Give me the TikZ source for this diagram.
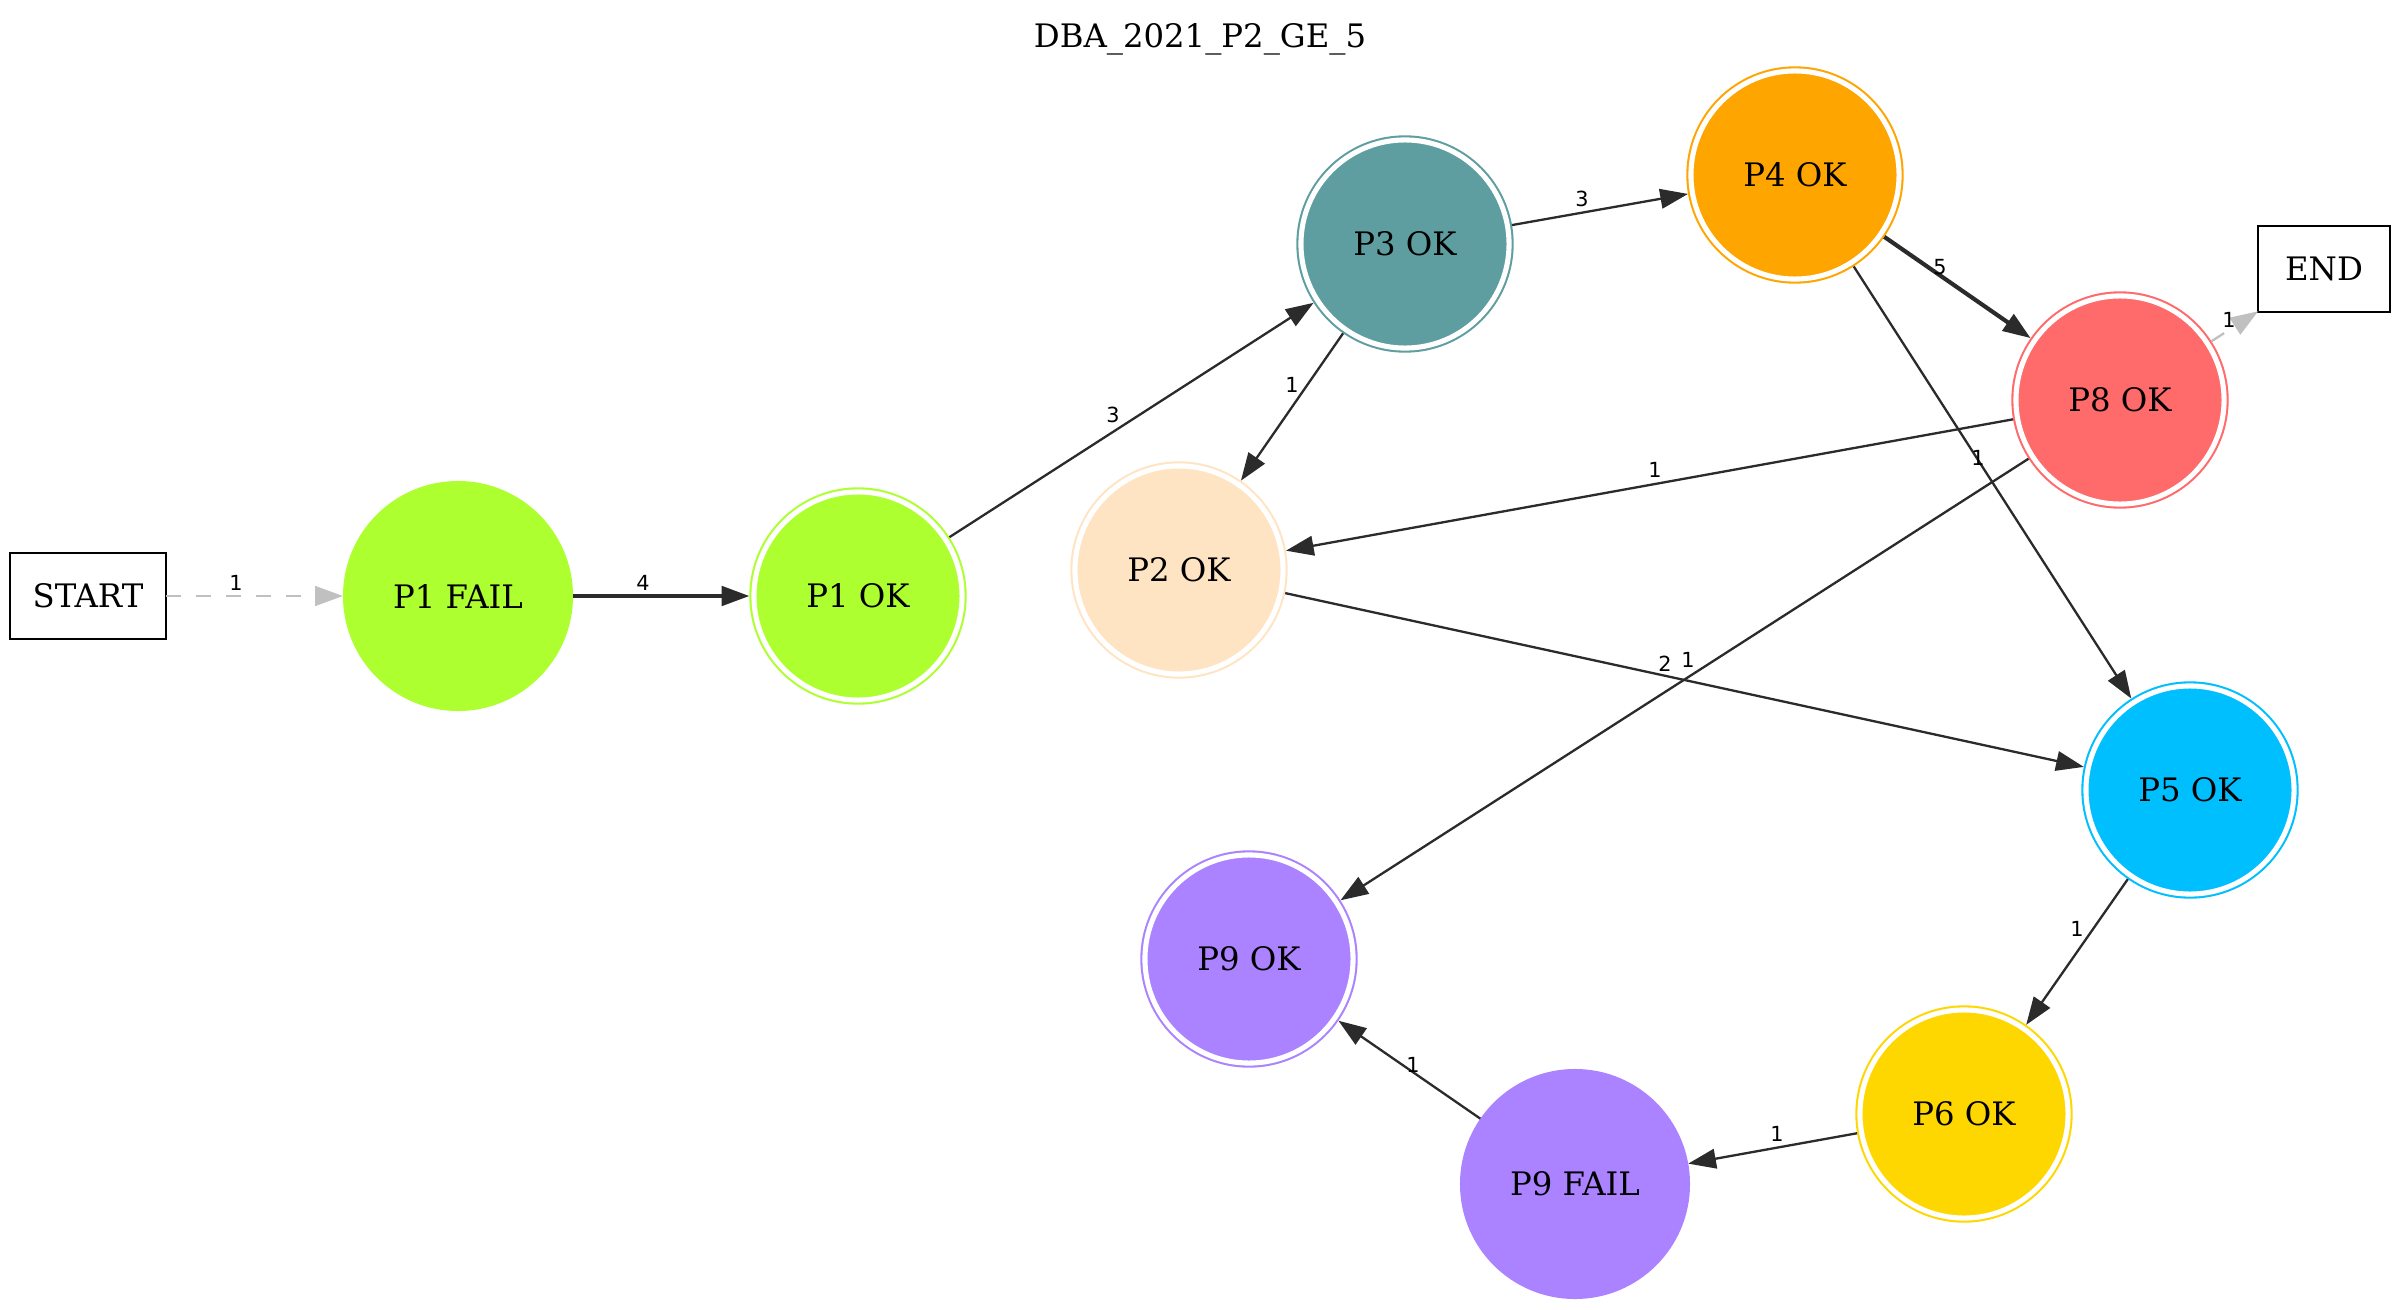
\documentclass[tikz,border=0pt]{standalone}
\usepackage{fontspec}
\setmainfont{DejaVu Serif}
\newfontfamily\edgefont{DejaVu Sans}
\usetikzlibrary{arrows.meta}
% state colours
\definecolor{cPone}{HTML}{ADFF2F}
\definecolor{cPtwo}{HTML}{FFE4C4}
\definecolor{cPthree}{HTML}{5F9EA0}
\definecolor{cPfour}{HTML}{FFA500}
\definecolor{cPfive}{HTML}{00BFFF}
\definecolor{cPsix}{HTML}{FFD700}
\definecolor{cPeight}{HTML}{FF6A6A}
\definecolor{cPnine}{HTML}{AB82FF}
\definecolor{edgedark}{HTML}{2B2B2B}
\definecolor{edgelight}{HTML}{C0C0C0}
\begin{document}
\begin{tikzpicture}[x=0.4329pt, y=-0.4329pt,
  every node/.style={inner sep=0pt, outer sep=0pt, font=\fontsize{14pt}{16pt}\selectfont},
  okstate/.style={circle, draw=#1, fill=#1, line width=0.9pt, double=white,
    double distance=2.2pt, minimum size=90.1pt, outer sep=2pt},
  failstate/.style={circle, fill=#1, minimum size=99.6pt},
  terminal/.style={rectangle, draw=black, line width=1pt, minimum height=37.5pt},
  flow/.style={draw=edgedark, line width=1pt, -{Triangle[length=12pt,width=8.5pt]}},
  ghost/.style={draw=edgelight, line width=1pt, dash pattern=on 6.5pt off 6.5pt,
    -{Triangle[length=12pt,width=8.5pt]}},
  count/.style={font=\edgefont\fontsize{9pt}{10pt}\selectfont}
]
\useasboundingbox (0,0) rectangle (2400,1310);

\node[anchor=base] (title) at (1200,47) {DBA\_2021\_P2\_GE\_5};

% states
\node[terminal, minimum width=67.4pt] (start) at (88,596) {START};
\node[terminal, minimum width=57pt] (end) at (2324,269) {END};
\node[failstate=cPone] (p1fail) at (458,596) {P1 FAIL};
\node[okstate=cPone] (p1ok) at (858,596) {P1 OK};
\node[okstate=cPthree] (p3ok) at (1405,244) {P3 OK};
\node[okstate=cPfour] (p4ok) at (1795,175) {P4 OK};
\node[okstate=cPeight] (p8ok) at (2120,400) {P8 OK};
\node[okstate=cPtwo] (p2ok) at (1179,570) {P2 OK};
\node[okstate=cPfive] (p5ok) at (2190,790) {P5 OK};
\node[okstate=cPnine] (p9ok) at (1249,959) {P9 OK};
\node[okstate=cPsix] (p6ok) at (1964,1114) {P6 OK};
\node[failstate=cPnine] (p9fail) at (1575,1184) {P9 FAIL};

% transitions
\draw[ghost] (start) -- (p1fail);
\draw[flow, line width=1.4pt] (p1fail) -- (p1ok);
\draw[flow] (p1ok) -- (p3ok);
\draw[flow] (p3ok) -- (p2ok);
\draw[flow] (p3ok) -- (p4ok);
\draw[flow, line width=1.8pt] (p4ok) -- (p8ok);
\draw[flow] (p4ok) -- (p5ok);
\draw[ghost] (p8ok) -- (end);
\draw[flow] (p8ok) -- (p2ok);
\draw[flow] (p8ok) -- (p9ok);
\draw[flow] (p2ok) -- (p5ok);
\draw[flow] (p5ok) -- (p6ok);
\draw[flow] (p6ok) -- (p9fail);
\draw[flow] (p9fail) -- (p9ok);

% transition counts
\node[count] (c1) at (236,583) {1};
\node[count] (c2) at (643,583) {4};
\node[count] (c3) at (1113,415) {3};
\node[count] (c4) at (1292,385) {1};
\node[count] (c5) at (1582,199) {3};
\node[count] (c6) at (1940,267) {5};
\node[count] (c7) at (1978,458) {1};
\node[count] (c8) at (2229,320) {1};
\node[count] (c9) at (1655,470) {1};
\node[count] (c10) at (1688,660) {1};
\node[count] (c11) at (1665,664) {2};
\node[count] (c12) at (2077,929) {1};
\node[count] (c13) at (1777,1134) {1};
\node[count] (c14) at (1413,1065) {1};
\end{tikzpicture}
\end{document}
